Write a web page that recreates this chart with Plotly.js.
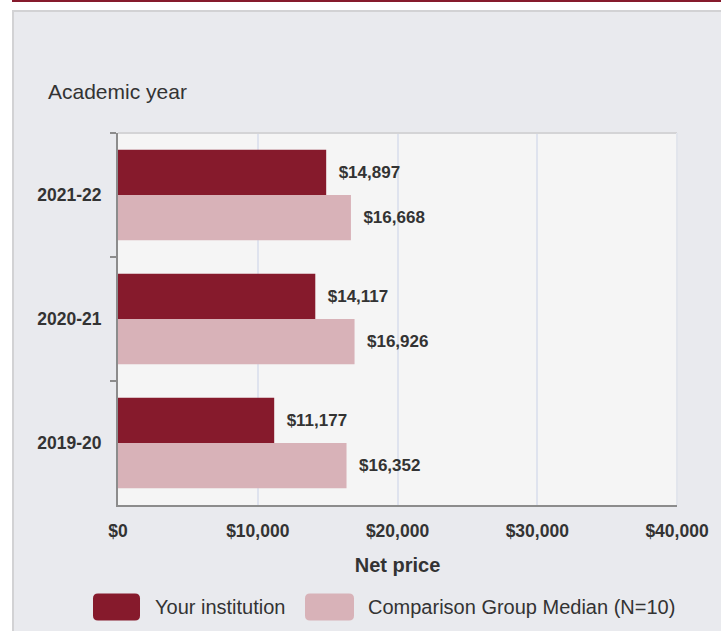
<!DOCTYPE html>
<html>
<head>
<meta charset="utf-8">
<script src="https://cdn.plot.ly/plotly-3.0.1.min.js"></script>
<style>
  html, body { margin: 0; padding: 0; background: #ffffff; width: 721px; height: 631px; overflow: hidden; }
  #topbar { position: absolute; left: 12px; top: 0; width: 709px; height: 2px; background: #861a2c; }
  #panel { position: absolute; left: 12px; top: 10px; width: 709px; height: 621px;
           border-left: 2px solid #d2d2d4; border-top: 2px solid #d2d2d4; background: #e9eaee; box-sizing: border-box; }
  #chart { position: absolute; left: 0; top: 0; width: 707px; height: 619px; }
</style>
</head>
<body>
<div id="topbar"></div>
<div id="panel"><div id="chart"></div></div>
<script>
// ---- data ----
const categories = ['2021-22', '2020-21', '2019-20'];
const yourInstitution = [14897, 14117, 11177];
const comparisonMedian = [16668, 16926, 16352];
const seriesNames = ['Your institution', 'Comparison Group Median (N=10)'];
const xTickValues = [0, 10000, 20000, 30000, 40000];
const xTickLabels = ['$0', '$10,000', '$20,000', '$30,000', '$40,000'];

// ---- style ----
const colors = ['#861a2c', '#d8b2b8'];
const W = 707, H = 619;
const M = { l: 104, r: 44, t: 121, b: 126 };
const pw = W - M.l - M.r, ph = H - M.t - M.b;
const px2x = (x) => (x - M.l) / pw;
const px2y = (y) => (H - M.b - y) / ph;
const FONT = 'Liberation Sans, Arial, sans-serif';

const traces = [
  { type: 'bar', orientation: 'h', name: seriesNames[0], y: categories, x: yourInstitution,
    marker: { color: colors[0], line: { width: 0 } },
    texttemplate: '\u00a0\u00a0$%{x:,}', textposition: 'outside', cliponaxis: false,
    textfont: { family: FONT, size: 17, color: '#333333', weight: 'bold' }, hoverinfo: 'none' },
  { type: 'bar', orientation: 'h', name: seriesNames[1], y: categories, x: comparisonMedian,
    marker: { color: colors[1], line: { width: 0 } },
    texttemplate: '\u00a0\u00a0$%{x:,}', textposition: 'outside', cliponaxis: false,
    textfont: { family: FONT, size: 17, color: '#333333', weight: 'bold' }, hoverinfo: 'none' }
];

function roundRect(w, h, r) {
  const a = w / 2, b = h / 2;
  return `M ${-a + r} ${-b} L ${a - r} ${-b} Q ${a} ${-b} ${a} ${-b + r} L ${a} ${b - r} Q ${a} ${b} ${a - r} ${b} ` +
         `L ${-a + r} ${b} Q ${-a} ${b} ${-a} ${b - r} L ${-a} ${-b + r} Q ${-a} ${-b} ${-a + r} ${-b} Z`;
}

const legendY = 595;
const swatches = [{ cx: 102.5, w: 47 }, { cx: 315.5, w: 49 }];
const legendTextX = [139, 352];

const shapes = [
  { type: 'line', xref: 'paper', yref: 'paper', x0: 0, x1: 1, y0: 1, y1: 1, line: { color: '#d4d4d6', width: 2 } },
  { type: 'line', xref: 'paper', yref: 'paper', x0: 1, x1: 1, y0: 0, y1: 1, line: { color: '#e2e5ec', width: 2 } }
];
const annotations = [
  { text: 'Academic year', xref: 'paper', yref: 'paper', x: px2x(32), y: px2y(79), xanchor: 'left', yanchor: 'middle',
    showarrow: false, font: { family: FONT, size: 21, color: '#333333' } }
];
swatches.forEach((s, i) => {
  shapes.push({ type: 'path', xref: 'paper', yref: 'paper', xsizemode: 'pixel', ysizemode: 'pixel',
    xanchor: px2x(s.cx), yanchor: px2y(legendY), path: roundRect(s.w, 27, 5),
    fillcolor: colors[i], line: { width: 0 } });
  annotations.push({ text: seriesNames[i], xref: 'paper', yref: 'paper', x: px2x(legendTextX[i]), y: px2y(legendY),
    xanchor: 'left', yanchor: 'middle', showarrow: false, font: { family: FONT, size: 20, color: '#333333' } });
});

const layout = {
  width: W, height: H, margin: M,
  paper_bgcolor: '#e9eaee', plot_bgcolor: '#f5f5f5',
  barmode: 'group', bargap: 0.27, bargroupgap: 0,
  showlegend: false,
  font: { family: FONT, color: '#333333' },
  xaxis: {
    range: [0, 40000], tickvals: xTickValues, ticktext: xTickLabels,
    showgrid: true, gridcolor: '#dfe3ee', gridwidth: 2, zeroline: false,
    showline: true, linecolor: '#8c8c8c', linewidth: 2, ticks: '',
    ticklabelstandoff: 9,
    tickfont: { family: FONT, size: 17.5, color: '#333333', weight: 'bold' },
    title: { text: 'Net price', standoff: 18, font: { family: FONT, size: 20, color: '#333333', weight: 'bold' } },
    fixedrange: true
  },
  yaxis: {
    type: 'category', categoryorder: 'array', categoryarray: categories, autorange: 'reversed',
    showline: true, linecolor: '#8c8c8c', linewidth: 2,
    ticks: 'outside', tickson: 'boundaries', ticklen: 6, tickwidth: 2, tickcolor: '#8c8c8c',
    ticklabelstandoff: 11, showgrid: false, zeroline: false,
    tickfont: { family: FONT, size: 17.5, color: '#333333', weight: 'bold' },
    fixedrange: true
  },
  shapes: shapes,
  annotations: annotations
};

Plotly.newPlot('chart', traces, layout, { displayModeBar: false, staticPlot: true });
</script>
</body>
</html>
